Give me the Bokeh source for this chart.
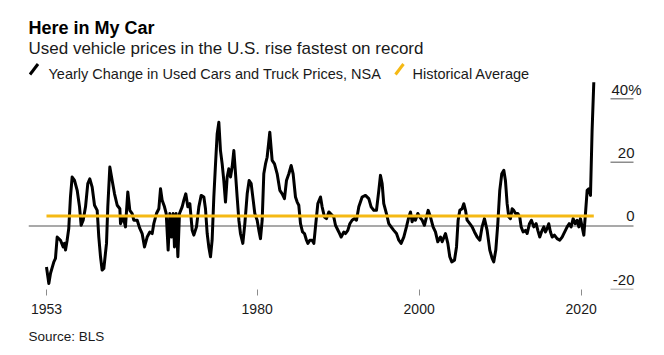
from bokeh.plotting import figure
from bokeh.models import Range1d, FixedTicker, Title
from bokeh.core.properties import value
from bokeh.embed import file_html
from bokeh.resources import INLINE

# ---------------- data ----------------
years = [
    1953.99, 1954.28, 1954.49, 1954.90, 1955.10, 1955.31, 1955.72, 1956.05, 1956.21, 1956.34,
    1956.54, 1956.74, 1956.95, 1957.16, 1957.45, 1957.78, 1958.07, 1958.27, 1958.52, 1958.81,
    1959.09, 1959.34, 1959.63, 1959.92, 1960.25, 1960.45, 1960.66, 1960.86, 1961.07, 1961.40,
    1961.56, 1961.81, 1962.10, 1962.39, 1962.72, 1963.05, 1963.13, 1963.46, 1963.74, 1964.03,
    1964.28, 1964.57, 1964.77, 1965.19, 1965.51, 1965.80, 1966.09, 1966.42, 1966.75, 1967.04,
    1967.24, 1967.57, 1967.86, 1968.07, 1968.27, 1968.56, 1968.77, 1969.01, 1969.22, 1969.42,
    1969.63, 1969.79, 1970.00, 1970.21, 1970.41, 1970.74, 1970.95, 1971.19, 1971.44, 1971.69,
    1971.98, 1972.18, 1972.51, 1972.80, 1973.09, 1973.42, 1973.62, 1973.83, 1974.03, 1974.24,
    1974.44, 1974.65, 1974.86, 1975.06, 1975.27, 1975.47, 1975.68, 1975.88, 1976.09, 1976.30,
    1976.50, 1976.71, 1976.91, 1977.12, 1977.33, 1977.53, 1977.74, 1977.94, 1978.23, 1978.48,
    1978.77, 1979.01, 1979.26, 1979.51, 1979.71, 1980.00, 1980.21, 1980.41, 1980.62, 1980.82,
    1981.03, 1981.23, 1981.56, 1981.85, 1982.14, 1982.47, 1982.80, 1983.09, 1983.37, 1983.62,
    1983.91, 1984.20, 1984.44, 1984.73, 1984.94, 1985.14, 1985.35, 1985.60, 1985.84, 1986.09,
    1986.26, 1986.50, 1986.79, 1987.00, 1987.24, 1987.49, 1987.82, 1988.02, 1988.31, 1988.56,
    1988.85, 1989.05, 1989.46, 1989.67, 1990.08, 1990.37, 1990.70, 1990.90, 1991.19, 1991.44,
    1991.72, 1992.01, 1992.26, 1992.55, 1992.96, 1993.37, 1993.78, 1994.07, 1994.40, 1994.73,
    1995.02, 1995.22, 1995.43, 1995.63, 1995.96, 1996.25, 1996.54, 1996.87, 1997.20, 1997.49,
    1997.77, 1998.10, 1998.43, 1998.72, 1998.93, 1999.13, 1999.34, 1999.54, 1999.83, 2000.08,
    2000.37, 2000.65, 2000.90, 2001.11, 2001.40, 2001.72, 2002.01, 2002.30, 2002.63, 2002.84,
    2003.25, 2003.54, 2003.78, 2004.03, 2004.36, 2004.61, 2004.81, 2005.02, 2005.30, 2005.51,
    2005.72, 2005.92, 2006.25, 2006.54, 2006.83, 2007.16, 2007.49, 2007.77, 2008.06, 2008.39,
    2008.72, 2009.01, 2009.21, 2009.46, 2009.71, 2009.95, 2010.20, 2010.45, 2010.65, 2010.86,
    2011.07, 2011.27, 2011.48, 2011.68, 2011.89, 2012.18, 2012.42, 2012.59, 2012.84, 2013.12,
    2013.33, 2013.62, 2013.86, 2014.15, 2014.44, 2014.65, 2014.89, 2015.10, 2015.39, 2015.59,
    2015.80, 2016.00, 2016.21, 2016.42, 2016.70, 2017.03, 2017.36, 2017.65, 2017.86, 2018.06,
    2018.27, 2018.52, 2018.76, 2019.01, 2019.26, 2019.50, 2019.71, 2019.91, 2020.12, 2020.33,
    2020.53, 2020.74, 2020.94, 2021.15, 2021.35, 2021.56,
]
change = [
    -12.9, -18.1, -14.9, -11.3, -10.2, -3.5, -4.5, -6.6, -5.5, -7.6,
    -4.5, -0.8, 9.1, 15.4, 14.3, 11.2, 6.0, 0.2, 1.8, 6.0,
    13.3, 14.8, 12.2, 6.5, 4.9, -3.5, -9.7, -13.9, -13.4, -5.5,
    6.0, 18.5, 14.3, 10.1, 6.5, 5.4, 0.7, 2.8, -0.3, 10.7,
    4.9, 3.9, 1.8, 1.8, -0.8, -2.4, -6.6, -3.5, -1.9, -2.4,
    0.7, 3.9, 5.4, 11.7, 8.1, 6.0, 3.9, -7.6, 3.9, -3.5,
    3.9, -6.6, 3.9, -9.7, 3.9, 6.0, 8.1, 10.1, 6.0, 7.0,
    -1.4, -2.9, -0.3, 6.0, 9.6, 9.1, 5.4, -2.4, -6.6, -9.7,
    -4.5, 9.1, 19.5, 28.9, 32.6, 23.7, 19.5, 14.3, 7.5, 15.4,
    18.0, 15.4, 18.5, 23.7, 16.4, 9.1, 1.8, -2.4, -5.5, 0.7,
    10.1, 14.3, 13.3, 8.1, 3.9, 1.8, -1.4, -4.0, 1.8, 16.4,
    19.5, 21.6, 29.5, 20.6, 19.5, 16.4, 11.2, 10.1, 8.6, 14.3,
    16.4, 19.0, 16.4, 9.1, 7.5, 6.5, 0.7, -1.9, -2.4, -4.5,
    -5.5, -4.5, -4.5, -5.5, 0.7, 7.0, 9.1, 6.0, 2.8, 2.3,
    4.4, 3.9, 2.8, 0.2, -1.9, -3.5, -1.9, -2.4, -1.4, 0.7,
    1.8, 2.3, 1.8, 6.0, 9.1, 9.6, 8.6, 6.0, 4.9, 4.9,
    11.2, 15.9, 13.3, 7.0, 3.9, 0.7, -0.3, -1.4, -2.4, -4.5,
    -5.5, -3.5, -0.3, 2.8, 4.4, 1.3, 2.8, 1.8, 3.9, 2.8,
    1.8, 0.2, 2.8, 4.9, 2.8, -0.3, -1.9, -5.0, -3.5, -5.0,
    -2.4, -5.5, -9.7, -11.3, -10.8, -6.6, 1.8, 4.9, 5.4, 7.0,
    4.9, 1.8, 0.7, -0.3, -1.9, -3.5, -4.5, -0.3, 2.3, -1.4,
    -7.6, -10.2, -11.3, -7.6, 0.7, 11.2, 16.4, 17.5, 14.3, 7.0,
    2.8, 2.3, 5.4, 4.9, 3.9, 3.9, 2.8, -0.3, -1.9, -1.4,
    -2.4, 0.7, 1.8, -0.3, 0.7, -1.4, -3.5, -1.9, -0.3, -1.9,
    -0.8, 0.7, -1.9, -3.5, -2.9, -4.0, -4.5, -3.5, -2.4, -1.4,
    -0.3, 0.7, -0.3, 2.3, 0.7, 1.8, -0.3, 2.3, -0.3, -2.9,
    3.9, 11.2, 11.7, 9.6, 30.0, 45.2,
]
historical_average = 3.1

x_tick_positions = [1954.0, 1980, 2000, 2020]
x_tick_labels = ["1953", "1980", "2000", "2020"]
y_tick_values = [-20, 0, 20, 40]
y_tick_labels = ["-20", "0", "20", "40%"]

title_text = "Here in My Car"
subtitle_text = "Used vehicle prices in the U.S. rise fastest on record"
legend_labels = ["Yearly Change in Used Cars and Truck Prices, NSA", "Historical Average"]
source_text = "Source: BLS"

# ---------------- layout constants ----------------
W, H = 664, 355
FRAME_L = 28          # canvas px of frame left edge
FRAME_B = 289         # canvas px of frame bottom edge (frame top = 0)
PX_PER_YEAR = 8.1
PX_PER_PCT = 3.179
X_START = 1951.77
X_END = X_START + (W - FRAME_L) / PX_PER_YEAR
Y_START = -20
Y_END = Y_START + FRAME_B / PX_PER_PCT

FONT = "Liberation Sans"
BLACK = "#000000"
YELLOW = "#f5b914"
GRAY = "#8c8c8c"
TEXT = "#1a1a1a"


def xd(px):
    return X_START + (px - FRAME_L) / PX_PER_YEAR


def yd(py):
    return Y_START + (FRAME_B - py) / PX_PER_PCT


p = figure(width=W, height=H, output_backend="svg", toolbar_location=None,
           x_range=Range1d(X_START, X_END), y_range=Range1d(Y_START, Y_END),
           min_border_left=FRAME_L, min_border_right=0, min_border_top=0,
           min_border_bottom=H - FRAME_B, y_axis_location=None)
p.outline_line_color = None
p.grid.visible = False
p.background_fill_color = "white"
p.border_fill_color = "white"

# x axis
xa = p.xaxis[0]
xa.ticker = FixedTicker(ticks=x_tick_positions)
xa.major_label_overrides = dict(zip(x_tick_positions, x_tick_labels))
xa.axis_line_color = None
xa.major_tick_line_color = GRAY
xa.major_tick_line_width = 1
xa.major_tick_in = 0
xa.major_tick_out = 6
xa.minor_tick_line_color = None
xa.major_label_standoff = 8
xa.major_label_text_font = FONT
xa.major_label_text_font_size = "14px"
xa.major_label_text_color = TEXT

# zero line and right-side y ticks
right_edge = xd(633)
tick_left = xd(610)
for v in y_tick_values:
    x0 = X_START if v == 0 else tick_left
    p.segment(x0=[x0], y0=[v], x1=[right_edge], y1=[v], line_color=GRAY, line_width=1.5)

for v, lab in zip(y_tick_values, y_tick_labels):
    if lab.endswith("%"):
        p.text(x=[xd(611)], y=[v + 9.5 / PX_PER_PCT], text=[lab], text_align="left",
               text_baseline="alphabetic", text_font=value(FONT), text_font_size="15px",
               text_color=TEXT)
    else:
        p.text(x=[xd(634)], y=[v + 9.5 / PX_PER_PCT], text=[lab], text_align="right",
               text_baseline="alphabetic", text_font=value(FONT), text_font_size="15px",
               text_color=TEXT)

# series
p.line(years, change, line_color=BLACK, line_width=3, line_join="round")
p.line([years[0], years[-1]], [historical_average, historical_average],
       line_color=YELLOW, line_width=3)

# title, subtitle
p.text(x=[xd(28)], y=[yd(27.7)], text=[title_text], text_font=value(FONT),
       text_font_style="bold", text_font_size="18px", text_baseline="alphabetic",
       text_color=BLACK)
p.text(x=[xd(28)], y=[yd(48.3)], text=[subtitle_text], text_font=value(FONT),
       text_font_size="17px", text_baseline="alphabetic", text_color=TEXT)

# legend
p.segment(x0=[xd(29.5)], y0=[yd(74)], x1=[xd(37.5)], y1=[yd(63.5)],
          line_color=BLACK, line_width=3)
p.text(x=[xd(48)], y=[yd(73.3)], text=[legend_labels[0]], text_font=value(FONT),
       text_font_size="14.5px", text_baseline="alphabetic", text_color=TEXT)
p.segment(x0=[xd(395)], y0=[yd(74)], x1=[xd(403)], y1=[yd(63.5)],
          line_color=YELLOW, line_width=3)
p.text(x=[xd(412)], y=[yd(73.3)], text=[legend_labels[1]], text_font=value(FONT),
       text_font_size="14.5px", text_baseline="alphabetic", text_color=TEXT)

# source
p.add_layout(Title(text=source_text, align="left", text_font=FONT,
                   text_font_style="normal", text_font_size="13.5px",
                   text_color=TEXT, standoff=20), "below")

open("out.html", "w").write(file_html(p, INLINE))
